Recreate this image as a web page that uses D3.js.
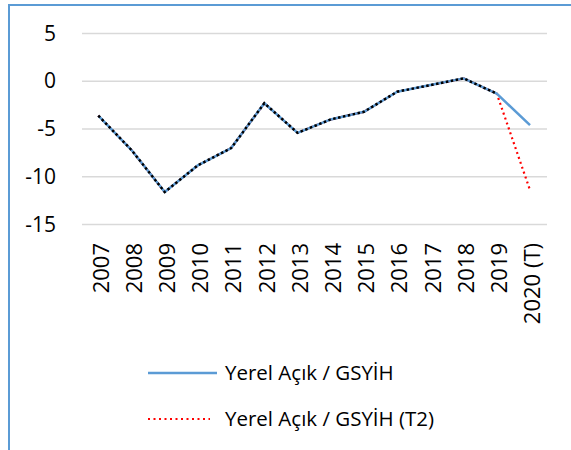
<!DOCTYPE html>
<html><head><meta charset="utf-8">
<script src="https://cdn.jsdelivr.net/npm/d3@7"></script>
<style>body{margin:0;background:#fff}svg{display:block}</style>
</head><body>
<script>
const years = ["2007","2008","2009","2010","2011","2012","2013","2014","2015","2016","2017","2018","2019","2020 (T)"];
const deficit = [-3.6,-7.2,-11.6,-8.8,-7.0,-2.3,-5.4,-4.0,-3.2,-1.1,-0.4,0.3,-1.3,-4.6];
const deficitT2 = [-3.6,-7.2,-11.6,-8.8,-7.0,-2.3,-5.4,-4.0,-3.2,-1.1,-0.4,0.3,-1.3,-11.4];
const yTicks = [5,0,-5,-10,-15];
const legendLabels = ["Yerel Açık / GSYİH","Yerel Açık / GSYİH (T2)"];

const W=571,H=450;
const svg=d3.select("body").append("svg").attr("width",W).attr("height",H);
const font="'Open Sans', 'Noto Sans', sans-serif";

// frame
svg.append("path").attr("d",`M9,${H} L9,5 L${W},5`).attr("fill","none").attr("stroke","#5B9BD5").attr("stroke-width",2);

const x=d3.scalePoint().domain(years).range([98.3,530]);
const y=d3.scaleLinear().domain([-15,5]).range([224.5,33.5]);

// gridlines
svg.append("g").selectAll("line").data(yTicks).join("line")
  .attr("x1",82).attr("x2",547).attr("y1",d=>y(d)).attr("y2",d=>y(d))
  .attr("stroke","#d9d9d9").attr("stroke-width",1.5);

// y axis
const ya=svg.append("g").attr("transform","translate(56,0)")
  .call(d3.axisLeft(y).tickValues(yTicks).tickSize(0).tickPadding(0).tickFormat(d=>d));
ya.select(".domain").remove();
ya.selectAll("text").attr("font-family",font).attr("font-size",21).attr("fill","#000");

// x axis labels
const xa=svg.append("g").attr("transform","translate(0,236)")
  .call(d3.axisBottom(x).tickSize(0).tickPadding(0));
xa.select(".domain").remove();
xa.selectAll("text").attr("font-family",font).attr("font-size",22).attr("fill","#000")
  .attr("transform","rotate(-90)").attr("text-anchor","end").attr("dy","0.35em").attr("x",-7).attr("y",2);

const line=d3.line().x((d,i)=>x(years[i])).y(d=>y(d));
// red dotted T2 (last segment visible)
svg.append("path").datum(deficitT2).attr("d",line).attr("fill","none")
  .attr("stroke","#FF0000").attr("stroke-width",2.2).attr("stroke-dasharray","2,3.2");
// blue solid
svg.append("path").datum(deficit).attr("d",line).attr("fill","none")
  .attr("stroke","#5B9BD5").attr("stroke-width",2.5).attr("stroke-linejoin","round");
// black dotted overlay up to 2019
svg.append("path").datum(deficit.slice(0,13)).attr("d",line).attr("fill","none")
  .attr("stroke","#000").attr("stroke-width",2.5).attr("stroke-dasharray","2.5,2.5");

// legend
const lg=svg.append("g");
lg.append("line").attr("x1",148).attr("x2",217).attr("y1",373).attr("y2",373).attr("stroke","#5B9BD5").attr("stroke-width",2.5);
lg.append("line").attr("x1",148).attr("x2",210).attr("y1",419).attr("y2",419).attr("stroke","#FF0000").attr("stroke-width",2).attr("stroke-dasharray","2,3.5");
lg.selectAll("text").data(legendLabels).join("text")
  .attr("x",225).attr("y",(d,i)=>380+i*46).attr("font-family",font).attr("font-size",20.5).attr("fill","#000")
  .text(d=>d);
</script>
</body></html>
